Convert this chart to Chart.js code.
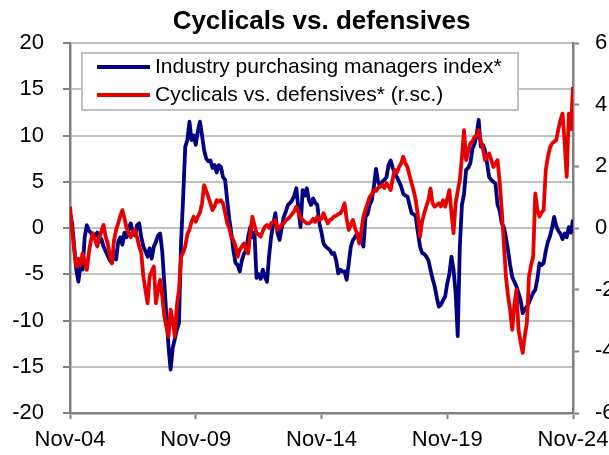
<!DOCTYPE html>
<html>
<head>
    <title>Cyclicals vs. defensives</title>
    <script src="https://cdn.jsdelivr.net/npm/chart.js"></script>
    <style>
        body {
            margin: 0;
            background-color: #ffffff;
        }
        canvas {
            display: block;
        }
    </style>
</head>
<body>
    <canvas id="cycChart" width="609" height="455"></canvas>

    <script>
        // Tick labels on the time axis (one every 60 months, from Nov-04)
        const xTickLabels = ['Nov-04', 'Nov-09', 'Nov-14', 'Nov-19', 'Nov-24'];

        // Industry PMI (left scale), monthly from Nov-04 to Nov-24
        const pmi = [
            1.6, 0.5, -2, -4.5, -5.8, -4, -4.5, -1, 0.3, -0.3,
            -0.5, -1, -0.8, -0.5, -1.5, -1.2, -2, -2.5, -3, -3.5,
            -3.8, -2.5, -3.4, -1.5, -1, -1.8, -0.5, -1, 0, 0.5,
            -0.5, -0.8, 0.3, 0.5, -1, -2, -2.5, -3.1, -2.2, -3.3,
            -2, -1.5, -0.8, -0.6, -2.5, -6, -9.5, -12.8, -15.3, -13,
            -12, -11, -10.3, -1.5, 3.4, 8.8, 9.5, 11.5, 9.5, 10,
            9, 10.5, 11.5, 10, 8.4, 7.5, 7.2, 7.3, 6.5, 6.8,
            6, 6.8, 6.6, 5.5, 5.2, 3, 1, -0.6, -2.5, -3.8,
            -4, -4.7, -3.5, -2.8, -2.4, -1, 0.1, -1, -0.5, -5.4,
            -5, -5.5, -4.5, -5.3, -5.8, -3, -0.9, 0.5, 1.6, -0.5,
            -1.3, 0, 1.2, 1.8, 2.5, 2.7, 3, 3.5, 4.3, 2,
            0.1, 4.1, 3.5, 4.3, 3, 2.5, 3.2, 2.7, 2.5, 0.5,
            -0.5, -1.7, -2, -2.2, -2.4, -2.8, -2.7, -3.5, -4.9, -4.5,
            -4.7, -4.7, -5.6, -3.8, -2, -1.3, -1, -0.6, -1, -1.5,
            -2, 1.2, 1.5, 2.5, 3, 4.5, 6.4, 5, 4.5, 5,
            5.2, 5.5, 6.8, 7.3, 6.5, 5.9, 5.5, 5, 4.5, 3.7,
            3.5, 3.4, 2.5, 1.6, 1.5, 1.2, -0.5, -2, -2.7, -2.8,
            -3.1, -3.5, -4.5, -5.5, -6.3, -7.5, -8.5, -8.3, -7.8, -7.4,
            -6, -5, -3.1, -4.5, -7, -11.7, -2, 2.5, 3.7, 6.3,
            6.5, 7, 8.5, 9.1, 10, 11.7, 8.8, 9, 8.4, 7,
            5.5, 5.2, 5, 4.8, 2.5, 1.9, 0.5, 0.1, -1, -2.4,
            -4, -5.3, -5.8, -6.3, -7, -7.8, -9.2, -8.8, -8.5, -8.1,
            -7.5, -7, -6.7, -5.5, -3.8, -4, -3.8, -2.5, -1.5, -0.9,
            0, 1.2, 0.2, -0.3, -0.6, -1.2, -0.6, -1, 0.1, -0.5,
            0.9
        ];

        // Cyclicals vs. defensives (right scale), same months
        const cycDef = [
            0.69, -0.06, -0.7, -1.25, -1.0, -1.2, -0.82, -1.1, -1.36, -0.8,
            -0.4, -0.17, -0.4, -0.6, -0.3, -0.1, 0.1, -0.28, -0.5, -0.9,
            -1.14, -0.4, -0.06, 0.15, 0.4, 0.58, 0.31, 0, -0.17, -0.3,
            -0.1, -0.06, -0.3, -0.6, -0.8, -1.58, -2, -2.44, -1.58, -1.4,
            -1.25, -2.44, -2, -1.68, -2.2, -2.87, -3.2, -3.52, -2.65, -3,
            -3.52, -2.5, -2, -0.93, -0.8, -0.6, -0.2, -0.06, 0.2, 0.37,
            0.2, 0.37, 0.5, 0.8, 1.39, 1.2, 1.01, 0.8, 0.58, 0.7,
            0.9, 0.85, 0.9, 0.8, 0.5, 0.15, 0, -0.3, -0.39, -0.6,
            -0.93, -0.7, -0.6, -0.5, -0.7, -0.82, -0.2, 0.37, 0.1, -0.17,
            -0.2, -0.28, -0.1, 0.04, 0.1, 0, 0.15, 0.2, 0.26, -0.06,
            0, 0.1, 0.15, 0.25, 0.3, 0.37, 0.45, 0.55, 0.69, 0.5,
            0.35, 0.26, 0.2, 0.15, 0.15, 0.2, 0.3, 0.2, 0.37, 0.26,
            0.3, 0.48, 0.3, 0.15, 0.25, 0.3, 0.37, 0.4, 0.45, 0.48,
            0.6, 0.8, 0.3, -0.06, 0.1, 0.26, 0, -0.2, -0.5, -0.1,
            0.37, 0.6, 0.8, 1.01, 1.1, 1.23, 1.2, 1.3, 1.34, 1.4,
            1.3, 1.45, 1.35, 1.23, 1.6, 1.88, 1.8, 1.98, 2.1, 2.31,
            2.1, 1.98, 1.7, 1.45, 1.2, 0.9, 0.4, -0.28, 0.2, 0.48,
            0.7, 0.9, 1.28, 0.8, 0.69, 0.75, 0.8, 0.7, 0.9, 0.69,
            0.95, 1.23, 0.5, -0.17, 0.8, 1.2, 1.55, 2.3, 3.17, 2.2,
            2.5, 2.74, 2.8, 2.95, 3, 3.17, 2.8, 2.6, 2.2, 2.3,
            2.42, 2.2, 1.98, 2.1, 2.2, 1.5, 0.58, -0.5, -1.58, -2.2,
            -2.65, -3.3, -2.5, -2, -3.3, -3.7, -4.05, -3.5, -3.08, -1.58,
            -1.2, -0.93, 1.12, 0.6, 0.37, 0.5, 0.58, 1.88, 2.3, 2.6,
            2.74, 2.8, 2.85, 3.2, 3.5, 3.71, 2.8, 1.66, 3.71, 3.2,
            4.57
        ];

        const seriesNames = ['Industry purchasing managers index*', 'Cyclicals vs. defensives* (r.sc.)'];
        const seriesColors = ['#000080', '#e60000'];

        const fontFamily = '"Liberation Sans", Arial, sans-serif';
        const axisGray = '#808080';
        const gridGray = '#c0c0c0';

        // Titel oben, zentriert über der Zeichenfläche
        const titlePlugin = {
            id: 'topTitle',
            afterDraw(chart) {
                const ctx = chart.ctx;
                const area = chart.chartArea;
                ctx.save();
                ctx.font = 'bold 26px ' + fontFamily;
                ctx.fillStyle = '#000000';
                ctx.textAlign = 'center';
                ctx.textBaseline = 'alphabetic';
                ctx.fillText('Cyclicals vs. defensives', (area.left + area.right) / 2, 29);
                ctx.restore();
            }
        };

        // Legende als Kasten oben links im Diagramm
        const legendBoxPlugin = {
            id: 'legendBox',
            afterDatasetsDraw(chart) {
                const ctx = chart.ctx;
                ctx.save();
                ctx.fillStyle = '#ffffff';
                ctx.fillRect(82, 53, 436, 57);
                ctx.strokeStyle = gridGray;
                ctx.lineWidth = 2;
                ctx.strokeRect(82, 53, 436, 57);
                ctx.font = '21px ' + fontFamily;
                ctx.textBaseline = 'middle';
                ctx.textAlign = 'left';
                seriesNames.forEach((name, i) => {
                    const y = 67 + i * 28;
                    ctx.strokeStyle = seriesColors[i];
                    ctx.lineWidth = 4;
                    ctx.beginPath();
                    ctx.moveTo(97, y);
                    ctx.lineTo(150, y);
                    ctx.stroke();
                    ctx.fillStyle = '#000000';
                    ctx.fillText(name, 155, y);
                });
                ctx.restore();
            }
        };

        // keine automatische Randreserve für überstehende Beschriftungen
        function noOverflow(s) {
            s.paddingLeft = 0;
            s.paddingRight = 0;
            s.paddingTop = 0;
            s.paddingBottom = 0;
        }

        const ctx = document.getElementById('cycChart').getContext('2d');
        const chart = new Chart(ctx, {
            type: 'line',
            data: {
                datasets: [{
                    label: seriesNames[0],
                    data: pmi.map((v, i) => ({ x: i, y: v })),
                    borderColor: seriesColors[0],
                    borderWidth: 3.8,
                    pointRadius: 0,
                    tension: 0,
                    borderJoinStyle: 'round',
                    yAxisID: 'y',
                    order: 1
                }, {
                    label: seriesNames[1],
                    data: cycDef.map((v, i) => ({ x: i, y: v })),
                    borderColor: seriesColors[1],
                    borderWidth: 3.8,
                    pointRadius: 0,
                    tension: 0,
                    borderJoinStyle: 'round',
                    yAxisID: 'y2',
                    order: 0
                }]
            },
            options: {
                responsive: false,
                animation: false,
                layout: {
                    padding: { top: 43, left: 0, right: 0, bottom: 0 }
                },
                plugins: {
                    legend: { display: false },
                    title: { display: false },
                    tooltip: { enabled: false }
                },
                scales: {
                    x: {
                        type: 'linear',
                        min: 0,
                        max: 240,
                        afterFit: s => { s.height = 42; noOverflow(s); },
                        ticks: {
                            stepSize: 60,
                            autoSkip: false,
                            maxRotation: 0,
                            padding: 8,
                            color: '#000000',
                            font: { family: fontFamily, size: 22 },
                            callback: v => xTickLabels[Math.round(v / 60)]
                        },
                        grid: {
                            drawOnChartArea: false,
                            drawTicks: true,
                            tickLength: 6,
                            tickColor: axisGray,
                            tickWidth: 2
                        },
                        border: { color: axisGray, width: 2.5 }
                    },
                    y: {
                        position: 'left',
                        min: -20,
                        max: 20,
                        afterFit: s => { s.width = 70; noOverflow(s); },
                        ticks: {
                            stepSize: 5,
                            padding: 19,
                            color: '#000000',
                            font: { family: fontFamily, size: 22 }
                        },
                        grid: {
                            color: gridGray,
                            lineWidth: 2,
                            tickLength: 7,
                            tickColor: axisGray,
                            tickWidth: 2
                        },
                        border: { color: axisGray, width: 2.5 }
                    },
                    y2: {
                        position: 'right',
                        min: -6,
                        max: 6,
                        afterFit: s => { s.width = 36; noOverflow(s); },
                        ticks: {
                            stepSize: 2,
                            padding: 16,
                            color: '#000000',
                            font: { family: fontFamily, size: 22 }
                        },
                        grid: {
                            drawOnChartArea: false,
                            tickLength: 6,
                            tickColor: axisGray,
                            tickWidth: 2
                        },
                        border: { color: axisGray, width: 2.5 }
                    }
                }
            },
            plugins: [titlePlugin, legendBoxPlugin]
        });
    </script>
</body>
</html>
